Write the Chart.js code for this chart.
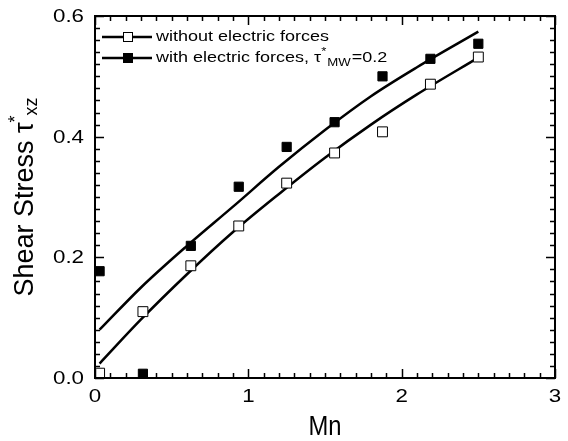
<!DOCTYPE html>
<html>
<head>
<meta charset="utf-8">
<script src="https://cdn.jsdelivr.net/npm/chart.js@4/dist/chart.umd.min.js"></script>
<style>
  html, body { margin: 0; padding: 0; background: #fff; }
  #wrap { width: 568px; height: 441px; }
</style>
</head>
<body>
<div id="wrap"><canvas id="shearChart" width="568" height="441"></canvas></div>
<script>
// measured points (Mn vs. shear stress)
const mnPoints = [0.03, 0.3125, 0.625, 0.9375, 1.25, 1.5625, 1.875, 2.1875, 2.5];
const stressWithout = [0.008, 0.11, 0.186, 0.252, 0.323, 0.373, 0.408, 0.487, 0.532];
const stressWith = [0.177, 0.007, 0.219, 0.317, 0.383, 0.424, 0.50, 0.529, 0.554];

// fitted curves
const fitMn = [0.03, 0.3, 0.6, 0.9, 1.2, 1.5, 1.8, 2.1, 2.5];
const fitWithout = [0.024, 0.097, 0.172, 0.242, 0.305, 0.365, 0.42, 0.47, 0.531];
const fitWith = [0.08, 0.15, 0.219, 0.284, 0.35, 0.411, 0.467, 0.515, 0.574];

const xTicks = [0, 1, 2, 3];
const yTicks = [0.0, 0.2, 0.4, 0.6];

const FONT = "'Liberation Sans', Arial, Helvetica, sans-serif";
const WIDE = 1.2; // the original lettering is a bit wider than Arial

function toXY(xs, ys) {
    return xs.map((x, i) => ({ x: x, y: ys[i] }));
}

// draws text stretched horizontally by sx, returns the drawn width
function drawText(ctx, text, x, y, sx) {
    let w = ctx.measureText(text).width * sx;
    ctx.save();
    ctx.translate(x, y);
    ctx.scale(sx, 1);
    ctx.fillText(text, 0, 0);
    ctx.restore();
    return w;
}

// frame, inward ticks, tick labels, legend and axis titles
const decorPlugin = {
    id: "decor",
    afterDatasetsDraw(chart) {
        const ctx = chart.ctx;
        const area = chart.chartArea;
        const xs = chart.scales.x;
        const ys = chart.scales.y;

        ctx.save();
        ctx.strokeStyle = "#000";
        ctx.fillStyle = "#000";
        ctx.lineWidth = 1.5;
        // minor + major ticks on all four sides
        for (let i = 0; i <= 30; i++) {
            let px = Math.round(xs.getPixelForValue(i / 10)) + 0.5;
            let len = (i % 10 === 0) ? 9 : 5;
            ctx.beginPath();
            ctx.moveTo(px, area.bottom);
            ctx.lineTo(px, area.bottom - len);
            ctx.moveTo(px, area.top);
            ctx.lineTo(px, area.top + len);
            ctx.stroke();
        }
        for (let i = 0; i <= 30; i++) {
            let py = Math.round(ys.getPixelForValue(i * 0.02)) + 0.5;
            let len = (i % 10 === 0) ? 9 : 5;
            ctx.beginPath();
            ctx.moveTo(area.left, py);
            ctx.lineTo(area.left + len, py);
            ctx.moveTo(area.right, py);
            ctx.lineTo(area.right - len, py);
            ctx.stroke();
        }
        ctx.lineWidth = 2;
        ctx.strokeRect(area.left, area.top, area.right - area.left, area.bottom - area.top);

        // tick labels
        ctx.font = "18px " + FONT;
        ctx.textBaseline = "middle";
        xTicks.forEach(v => {
            let t = String(v);
            let w = ctx.measureText(t).width * 1.24;
            drawText(ctx, t, xs.getPixelForValue(v) - w / 2, area.bottom + 19, 1.24);
        });
        yTicks.forEach(v => {
            let t = v.toFixed(1);
            let w = ctx.measureText(t).width * 1.24;
            drawText(ctx, t, area.left - 11 - w, ys.getPixelForValue(v) + 1, 1.24);
        });

        // legend
        const lx = area.left + 7;
        const rows = [
            { y: area.top + 21, fill: "#fff", parts: [["without electric forces", 0]] },
            { y: area.top + 42, fill: "#000", parts: [["with electric forces, \u03c4", 0], ["*", -1], ["MW", 1], ["=0.2", 0]] }
        ];
        rows.forEach(r => {
            ctx.lineWidth = 2.5;
            ctx.beginPath();
            ctx.moveTo(lx, r.y);
            ctx.lineTo(lx + 50, r.y);
            ctx.stroke();
            ctx.fillStyle = r.fill;
            ctx.fillRect(lx + 21, r.y - 4.5, 9, 9);
            ctx.lineWidth = 1;
            ctx.strokeRect(lx + 21.5, r.y - 4.5, 9, 9);
            let tx = lx + 54;
            ctx.fillStyle = "#000";
            ctx.textBaseline = "middle";
            r.parts.forEach(p => {
                if (p[1] === 0) {
                    ctx.font = "15px " + FONT;
                    tx += drawText(ctx, p[0], tx, r.y, WIDE);
                } else {
                    ctx.font = "11px " + FONT;
                    tx += drawText(ctx, p[0], tx, r.y + (p[1] < 0 ? -6 : 5), WIDE) + 1;
                }
            });
        });

        // x title
        ctx.font = "28px " + FONT;
        ctx.textBaseline = "middle";
        let mw = ctx.measureText("Mn").width * 0.85;
        drawText(ctx, "Mn", (area.left + area.right) / 2 - mw / 2, 427, 0.85);

        // y title, rotated
        ctx.translate(26, (area.top + area.bottom) / 2);
        ctx.rotate(-Math.PI / 2);
        ctx.textAlign = "left";
        const ytParts = [["Shear Stress \u03c4", 0, 27], ["*", -1, 18], ["xz", 1, 18]];
        let total = 0;
        ytParts.forEach(p => {
            ctx.font = p[2] + "px " + FONT;
            total += ctx.measureText(p[0]).width;
        });
        let tx = -total / 2;
        ytParts.forEach(p => {
            ctx.font = p[2] + "px " + FONT;
            ctx.fillText(p[0], tx, p[1] < 0 ? -10 : (p[1] > 0 ? 6 : 0));
            tx += ctx.measureText(p[0]).width;
        });
        ctx.restore();
    }
};

const ctx = document.getElementById("shearChart").getContext("2d");
new Chart(ctx, {
    type: "scatter",
    data: {
        datasets: [
            {
                label: "without electric forces",
                data: toXY(mnPoints, stressWithout),
                pointStyle: "rect",
                pointRadius: 7,
                backgroundColor: "#fff",
                borderColor: "#000",
                borderWidth: 1,
                showLine: false
            },
            {
                label: "with electric forces",
                data: toXY(mnPoints, stressWith),
                pointStyle: "rect",
                pointRadius: 6.5,
                backgroundColor: "#000",
                borderColor: "#000",
                borderWidth: 1,
                showLine: false
            },
            {
                label: "fit without",
                data: toXY(fitMn, fitWithout),
                showLine: true,
                pointRadius: 0,
                borderColor: "#000",
                borderWidth: 2.5,
                cubicInterpolationMode: "monotone"
            },
            {
                label: "fit with",
                data: toXY(fitMn, fitWith),
                showLine: true,
                pointRadius: 0,
                borderColor: "#000",
                borderWidth: 2.5,
                cubicInterpolationMode: "monotone"
            }
        ]
    },
    options: {
        responsive: false,
        animation: false,
        layout: { padding: { left: 0, top: 16, right: 13, bottom: 0 } },
        plugins: {
            legend: { display: false },
            tooltip: { enabled: false }
        },
        scales: {
            x: {
                type: "linear",
                min: 0,
                max: 3,
                afterBuildTicks: s => { s.ticks = xTicks.map(v => ({ value: v })); },
                afterFit: s => { s.height = 63; },
                grid: { display: false, drawTicks: false },
                border: { display: false },
                ticks: { display: false }
            },
            y: {
                type: "linear",
                min: 0,
                max: 0.6,
                afterBuildTicks: s => { s.ticks = yTicks.map(v => ({ value: v })); },
                afterFit: s => { s.width = 95; },
                grid: { display: false, drawTicks: false },
                border: { display: false },
                ticks: { display: false }
            }
        }
    },
    plugins: [decorPlugin]
});
</script>
</body>
</html>
